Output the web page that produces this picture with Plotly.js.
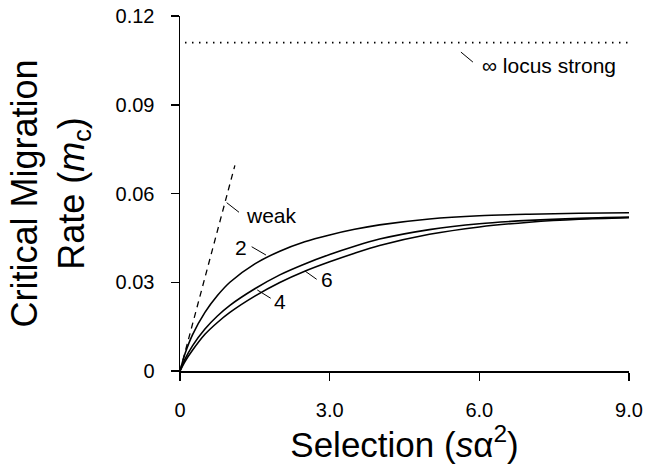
<!DOCTYPE html>
<html>
<head>
<meta charset="utf-8">
<script src="https://cdn.plot.ly/plotly-3.0.1.min.js"></script>
<style>html,body{margin:0;padding:0;background:#fff;}#chart{width:658px;height:468px;}</style>
</head>
<body>
<div id="chart"></div>
<script>
// Selection values (s alpha^2)
const selection = [0, 0.1, 0.25, 0.5, 0.75, 1.0, 1.5, 2.0, 2.5, 3.0, 3.5, 4.0, 5.0, 6.0, 7.0, 8.0, 9.0];
// Critical migration rate, 2 loci
const loci2 = [0, 0.0058, 0.0122, 0.0198, 0.0255, 0.0300, 0.0362, 0.0405, 0.0437, 0.0460, 0.0479, 0.0494, 0.0514, 0.0525, 0.0530, 0.0533, 0.0535];
// 4 loci
const loci4 = [0, 0.0040, 0.0085, 0.0142, 0.0186, 0.0222, 0.0278, 0.0325, 0.0362, 0.0394, 0.0422, 0.0446, 0.0478, 0.0498, 0.0509, 0.0516, 0.0520];
// 6 loci
const loci6 = [0, 0.0032, 0.0070, 0.0124, 0.0164, 0.0198, 0.0253, 0.0299, 0.0337, 0.0369, 0.0398, 0.0424, 0.0462, 0.0487, 0.0503, 0.0513, 0.0518];
// weak selection limit (dashed)
const weakX = [0, 1.1];
const weakY = [0, 0.0695];
// infinite loci, strong selection (dotted)
const strongX = [0.1, 9.0];
const strongY = [0.111, 0.111];
// ticks
const xTickVals = [0, 3, 6, 9];
const xTickText = ["0", "3.0", "6.0", "9.0"];
const yTickVals = [0, 0.03, 0.06, 0.09, 0.12];
const yTickText = ["0", "0.03", "0.06", "0.09", "0.12"];

const FONT = '"Liberation Sans", Arial, Helvetica, sans-serif';
const black = '#000';

const solid = {color: black, width: 1.6, shape: 'spline', smoothing: 0.8};
const traces = [
  {x: selection, y: loci2, mode: 'lines', name: '2', line: solid},
  {x: selection, y: loci4, mode: 'lines', name: '4', line: solid},
  {x: selection, y: loci6, mode: 'lines', name: '6', line: solid},
  {x: weakX, y: weakY, mode: 'lines', name: 'weak', line: {color: black, width: 1.3, dash: '6px,5px'}},
  {x: strongX, y: strongY, mode: 'lines', name: '∞ locus strong', line: {color: black, width: 1.6, dash: '1.5px,5.5px'}}
];

function label(text, x, y) {
  return {text: text, x: x, y: y, xref: 'x', yref: 'y', showarrow: false,
          font: {family: FONT, size: 21, color: black}, xanchor: 'center', yanchor: 'middle'};
}
// leader line anchored at a point on a curve, with a pixel-length segment
function leader(x, y, dx, dy) {
  return {type: 'line', xref: 'x', yref: 'y', xsizemode: 'pixel', ysizemode: 'pixel',
          xanchor: x, yanchor: y, x0: 0, y0: 0, x1: dx, y1: -dy,
          line: {color: black, width: 1}};
}

const layout = {
  width: 658, height: 468,
  margin: {l: 180, r: 29, t: 16, b: 97},
  paper_bgcolor: '#fff', plot_bgcolor: '#fff',
  showlegend: false,
  font: {family: FONT, color: black},
  xaxis: {
    range: [0, 9], tickvals: xTickVals, ticktext: xTickText,
    showgrid: false, zeroline: false, showline: true, linecolor: black, linewidth: 1.5,
    ticks: 'outside', ticklen: 8, tickwidth: 1.5, tickcolor: black,
    tickfont: {family: FONT, size: 20, color: black}, ticklabelstandoff: 12,
    title: {text: 'Selection (<i>s</i>α<sup>2</sup>)', font: {family: FONT, size: 35, color: black}, standoff: 7}
  },
  yaxis: {
    range: [0, 0.12], tickvals: yTickVals, ticktext: yTickText,
    showgrid: false, zeroline: false, showline: true, linecolor: black, linewidth: 1.5,
    ticks: 'outside', ticklen: 8, tickwidth: 1.5, tickcolor: black,
    tickfont: {family: FONT, size: 20, color: black}, ticklabelstandoff: 12,
    title: {text: 'Critical Migration<br>Rate (<i>m</i><sub>c</sub>)', font: {family: FONT, size: 36, color: black}, standoff: 20}
  },
  annotations: [
    label('weak', 1.834, 0.0527),
    label('2', 1.232, 0.0416),
    label('6', 2.956, 0.0308),
    label('4', 2.004, 0.0234),
    label('∞ locus strong', 7.395, 0.1034)
  ],
  shapes: [
    leader(0.936, 0.0569, 12.3, 9.6),
    leader(1.723, 0.0392, -14.3, -8.3),
    leader(2.505, 0.0338, 11.7, 8.3),
    leader(1.549, 0.0274, 13.4, 8.3),
    leader(5.631, 0.1078, 12, 10)
  ]
};

Plotly.newPlot('chart', traces, layout, {displayModeBar: false, staticPlot: true});
</script>
</body>
</html>
